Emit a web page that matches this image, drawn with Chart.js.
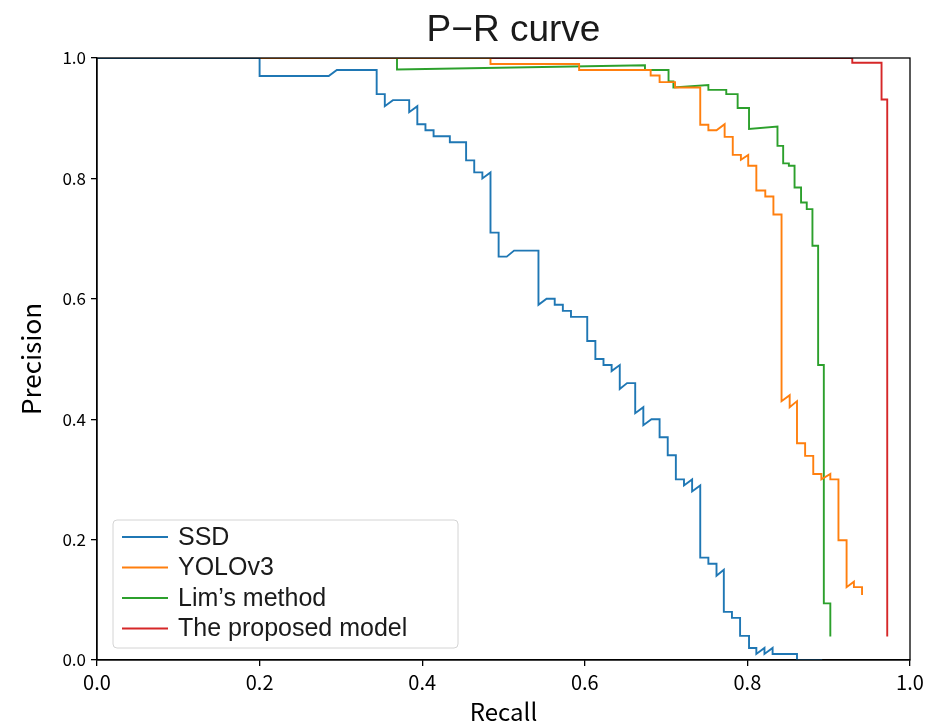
<!DOCTYPE html>
<html>
<head>
<meta charset="utf-8">
<script src="https://cdn.jsdelivr.net/npm/chart.js@4.4.1/dist/chart.umd.min.js"></script>
<style>
  html, body { margin: 0; padding: 0; background: #fff; }
  #wrap { width: 934px; height: 726px; }
</style>
</head>
<body>
<div id="wrap"><canvas id="chart" width="934" height="726"></canvas></div>
<script>
// valores (recall, precision)
const ssdRecall = [0, 0.2, 0.2, 0.285, 0.295, 0.344, 0.344, 0.354, 0.354, 0.364, 0.384, 0.384, 0.394, 0.394, 0.404, 0.404, 0.414, 0.414, 0.434, 0.434, 0.454, 0.454, 0.464, 0.464, 0.474, 0.474, 0.484, 0.484, 0.494, 0.494, 0.504, 0.513, 0.543, 0.543, 0.553, 0.563, 0.563, 0.573, 0.573, 0.583, 0.583, 0.603, 0.603, 0.613, 0.613, 0.623, 0.623, 0.633, 0.633, 0.643, 0.643, 0.652, 0.662, 0.662, 0.672, 0.672, 0.682, 0.692, 0.692, 0.702, 0.702, 0.712, 0.712, 0.722, 0.722, 0.732, 0.732, 0.742, 0.742, 0.752, 0.752, 0.762, 0.762, 0.771, 0.771, 0.781, 0.781, 0.791, 0.791, 0.802, 0.802, 0.811, 0.811, 0.821, 0.821, 0.831, 0.831, 0.861, 0.861, 0.892];
const ssdPrecision = [1, 1, 0.97, 0.97, 0.98, 0.98, 0.94, 0.94, 0.92, 0.93, 0.93, 0.91, 0.92, 0.89, 0.89, 0.88, 0.88, 0.87, 0.87, 0.86, 0.86, 0.83, 0.83, 0.81, 0.81, 0.80, 0.81, 0.71, 0.71, 0.67, 0.67, 0.68, 0.68, 0.59, 0.60, 0.60, 0.59, 0.59, 0.58, 0.58, 0.57, 0.57, 0.53, 0.53, 0.50, 0.50, 0.49, 0.49, 0.48, 0.49, 0.45, 0.46, 0.46, 0.41, 0.42, 0.39, 0.40, 0.40, 0.37, 0.37, 0.34, 0.34, 0.30, 0.30, 0.29, 0.30, 0.28, 0.29, 0.17, 0.17, 0.16, 0.16, 0.14, 0.15, 0.08, 0.08, 0.07, 0.07, 0.04, 0.04, 0.02, 0.02, 0.01, 0.02, 0.01, 0.02, 0.01, 0.01, 0.0, 0.0];

const yoloRecall = [0, 0.484, 0.484, 0.593, 0.593, 0.681, 0.681, 0.692, 0.692, 0.711, 0.711, 0.742, 0.742, 0.752, 0.752, 0.762, 0.772, 0.772, 0.782, 0.782, 0.792, 0.792, 0.801, 0.801, 0.811, 0.811, 0.822, 0.822, 0.832, 0.832, 0.842, 0.842, 0.852, 0.852, 0.861, 0.861, 0.871, 0.871, 0.881, 0.881, 0.891, 0.891, 0.902, 0.902, 0.912, 0.912, 0.922, 0.922, 0.931, 0.931, 0.941, 0.941];
const yoloPrecision = [1, 1, 0.99, 0.99, 0.98, 0.98, 0.971, 0.971, 0.96, 0.96, 0.951, 0.951, 0.889, 0.889, 0.88, 0.88, 0.89, 0.869, 0.869, 0.839, 0.839, 0.831, 0.839, 0.821, 0.821, 0.78, 0.78, 0.77, 0.77, 0.74, 0.74, 0.43, 0.44, 0.42, 0.43, 0.36, 0.36, 0.339, 0.339, 0.309, 0.309, 0.30, 0.309, 0.30, 0.30, 0.199, 0.199, 0.121, 0.13, 0.121, 0.121, 0.108];

const limRecall = [0, 0.369, 0.369, 0.674, 0.674, 0.703, 0.703, 0.709, 0.709, 0.752, 0.752, 0.774, 0.774, 0.788, 0.788, 0.802, 0.802, 0.837, 0.837, 0.844, 0.844, 0.851, 0.851, 0.858, 0.858, 0.866, 0.866, 0.873, 0.873, 0.88, 0.88, 0.887, 0.887, 0.894, 0.894, 0.902, 0.902];
const limPrecision = [1, 1, 0.981, 0.988, 0.98, 0.98, 0.961, 0.961, 0.951, 0.955, 0.947, 0.947, 0.94, 0.94, 0.917, 0.917, 0.882, 0.886, 0.854, 0.854, 0.825, 0.825, 0.821, 0.821, 0.785, 0.785, 0.76, 0.76, 0.749, 0.749, 0.688, 0.688, 0.49, 0.49, 0.094, 0.094, 0.039];

const propRecall = [0, 0.929, 0.929, 0.965, 0.965, 0.972, 0.972];
const propPrecision = [1, 1, 0.992, 0.992, 0.931, 0.931, 0.039];

const seriesNames = ['SSD', 'YOLOv3', 'Lim’s method', 'The proposed model'];
const seriesColors = ['#1f77b4', '#ff7f0e', '#2ca02c', '#d62728'];
const axisTicks = [0, 0.2, 0.4, 0.6, 0.8, 1.0];
const chartTitle = 'P−R curve';

function pontos(rec, prec) {
    return rec.map((r, i) => ({ x: r, y: prec[i] }));
}

const curvas = [
    pontos(ssdRecall, ssdPrecision),
    pontos(yoloRecall, yoloPrecision),
    pontos(limRecall, limPrecision),
    pontos(propRecall, propPrecision)
];

const tickFont = '"Noto Sans CJK SC", "DejaVu Sans", sans-serif';
const textFont = '"Liberation Sans", Arial, sans-serif';

// moldura completa em volta da área do gráfico + título
const moldura = {
    id: 'moldura',
    afterDatasetsDraw(chart) {
        const { ctx, chartArea: a } = chart;
        ctx.save();
        ctx.strokeStyle = '#000';
        ctx.lineWidth = 1.3;
        ctx.strokeRect(a.left, a.top, a.right - a.left, a.bottom - a.top);
        ctx.fillStyle = '#1a1a1a';
        ctx.font = '37px ' + textFont;
        ctx.textAlign = 'center';
        ctx.textBaseline = 'middle';
        ctx.fillText(chartTitle, (a.left + a.right) / 2 + 10, 31);
        ctx.restore();
    }
};

// legenda no canto inferior esquerdo, como no matplotlib
const legendaInterna = {
    id: 'legendaInterna',
    afterDraw(chart) {
        const { ctx, chartArea: a } = chart;
        const x0 = a.left + 16, y1 = a.bottom - 12;
        const w = 345, h = 128;
        const y0 = y1 - h;
        ctx.save();
        ctx.beginPath();
        ctx.roundRect(x0, y0, w, h, 4);
        ctx.fillStyle = 'rgba(255,255,255,0.8)';
        ctx.fill();
        ctx.strokeStyle = '#d4d4d4';
        ctx.lineWidth = 1;
        ctx.stroke();
        ctx.font = '25px ' + textFont;
        ctx.textBaseline = 'middle';
        chart.data.datasets.forEach((ds, i) => {
            const yy = y0 + 17 + i * 30.5;
            ctx.strokeStyle = ds.borderColor;
            ctx.lineWidth = 2;
            ctx.beginPath();
            ctx.moveTo(x0 + 9, yy);
            ctx.lineTo(x0 + 55, yy);
            ctx.stroke();
            ctx.fillStyle = '#1a1a1a';
            ctx.fillText(ds.label, x0 + 65, yy + 1);
        });
        ctx.restore();
    }
};

const ctx = document.getElementById('chart').getContext('2d');
const grafico = new Chart(ctx, {
    type: 'line',
    data: {
        datasets: curvas.map((d, i) => ({
            label: seriesNames[i],
            data: d,
            borderColor: seriesColors[i],
            borderWidth: 1.9,
            pointRadius: 0,
            tension: 0,
            fill: false
        }))
    },
    options: {
        responsive: false,
        animation: false,
        maintainAspectRatio: false,
        layout: { padding: { left: 16, right: 24, top: 58, bottom: 0 } },
        plugins: {
            legend: { display: false },
            tooltip: { enabled: false },
            title: { display: false }
        },
        scales: {
            x: {
                type: 'linear',
                min: 0,
                max: 1,
                afterBuildTicks: s => { s.ticks = axisTicks.map(v => ({ value: v })); },
                afterFit: s => { s.height = 66; },
                ticks: {
                    color: '#000',
                    font: { family: tickFont, size: 20 },
                    padding: 4,
                    maxRotation: 0,
                    callback: v => v.toFixed(1)
                },
                grid: { drawOnChartArea: false, drawTicks: true, tickLength: 6, color: '#000', lineWidth: 1.3 },
                border: { display: true, color: '#000', width: 1.3 },
                title: {
                    display: true,
                    text: 'Recall',
                    color: '#000',
                    font: { family: tickFont, size: 24 },
                    padding: { top: 0, bottom: 0 }
                }
            },
            y: {
                type: 'linear',
                min: 0,
                max: 1,
                afterBuildTicks: s => { s.ticks = axisTicks.map(v => ({ value: v })); },
                afterFit: s => { s.width = 81; },
                ticks: {
                    color: '#000',
                    font: { family: tickFont, size: 17 },
                    padding: 5,
                    callback: v => v.toFixed(1)
                },
                grid: { drawOnChartArea: false, drawTicks: true, tickLength: 6, color: '#000', lineWidth: 1.3 },
                border: { display: true, color: '#000', width: 1.3 },
                title: {
                    display: true,
                    text: 'Precision',
                    color: '#000',
                    font: { family: tickFont, size: 26 },
                    padding: { top: 0, bottom: 4 }
                }
            }
        }
    },
    plugins: [moldura, legendaInterna]
});
</script>
</body>
</html>
